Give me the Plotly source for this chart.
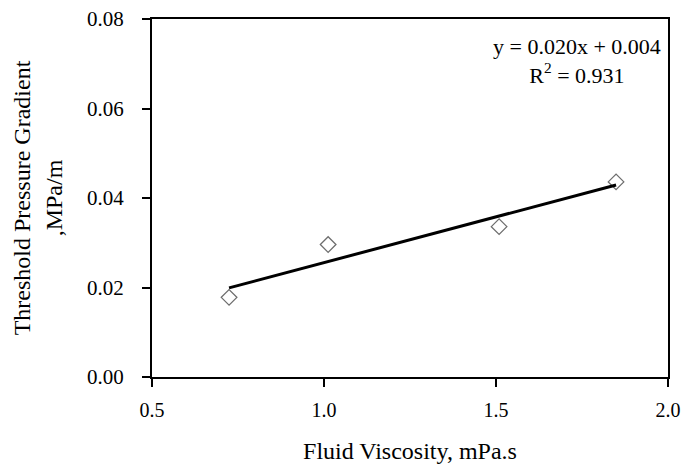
import numpy as np
import plotly.graph_objects as go

viscosity = [0.724, 1.012, 1.509, 1.849]
gradient = [0.0178, 0.0296, 0.0336, 0.0436]
x_ticks = [0.5, 1.0, 1.5, 2.0]
x_tick_labels = ["0.5", "1.0", "1.5", "2.0"]
y_ticks = [0.00, 0.02, 0.04, 0.06, 0.08]
y_tick_labels = ["0.00", "0.02", "0.04", "0.06", "0.08"]

slope, intercept = np.polyfit(viscosity, gradient, 1)
fit_x = [min(viscosity), max(viscosity)]
fit_y = [slope * v + intercept for v in fit_x]

font = "Liberation Serif, Times New Roman, serif"

fig = go.Figure()
fig.add_trace(go.Scatter(
    x=viscosity, y=gradient, mode="markers",
    marker=dict(symbol="diamond-open", size=12, color="#6e6e6e", line=dict(width=1.3)),
    showlegend=False,
))
fig.add_trace(go.Scatter(
    x=fit_x, y=fit_y, mode="lines",
    line=dict(color="black", width=3),
    showlegend=False,
))

fig.add_annotation(
    x=1, y=1, xref="paper", yref="paper", xanchor="right", yanchor="top",
    text="y = 0.020x + 0.004<br>R<sup>2</sup> = 0.931", align="center",
    showarrow=False, font=dict(family=font, size=22, color="black"),
    xshift=-5, yshift=-13,
)

fig.update_layout(
    width=681, height=468,
    margin=dict(l=152, r=13, t=19, b=91, autoexpand=False),
    paper_bgcolor="white", plot_bgcolor="white",
    font=dict(family=font, size=20, color="black"),
    xaxis=dict(
        range=[0.5, 2.0], tickvals=x_ticks, ticktext=x_tick_labels,
        ticks="outside", ticklen=8, tickwidth=1.5, tickcolor="black",
        showline=True, linecolor="black", linewidth=2, mirror=True,
        showgrid=False, zeroline=False, ticklabelstandoff=6, automargin=False,
        ticklabeloverflow="allow",
        title=dict(text="Fluid Viscosity, mPa.s", standoff=22, font=dict(size=24)),
        tickfont=dict(size=20),
    ),
    yaxis=dict(
        range=[0, 0.08], tickvals=y_ticks, ticktext=y_tick_labels,
        ticks="outside", ticklen=8, tickwidth=1.5, tickcolor="black",
        showline=True, linecolor="black", linewidth=2, mirror=True,
        showgrid=False, zeroline=False, ticklabelstandoff=14, automargin=False,
        ticklabeloverflow="allow",
        title=dict(text="Threshold Pressure Gradient<br>,MPa/m", standoff=18, font=dict(size=24)),
        tickfont=dict(size=21),
    ),
)

fig.write_html("out.html")
